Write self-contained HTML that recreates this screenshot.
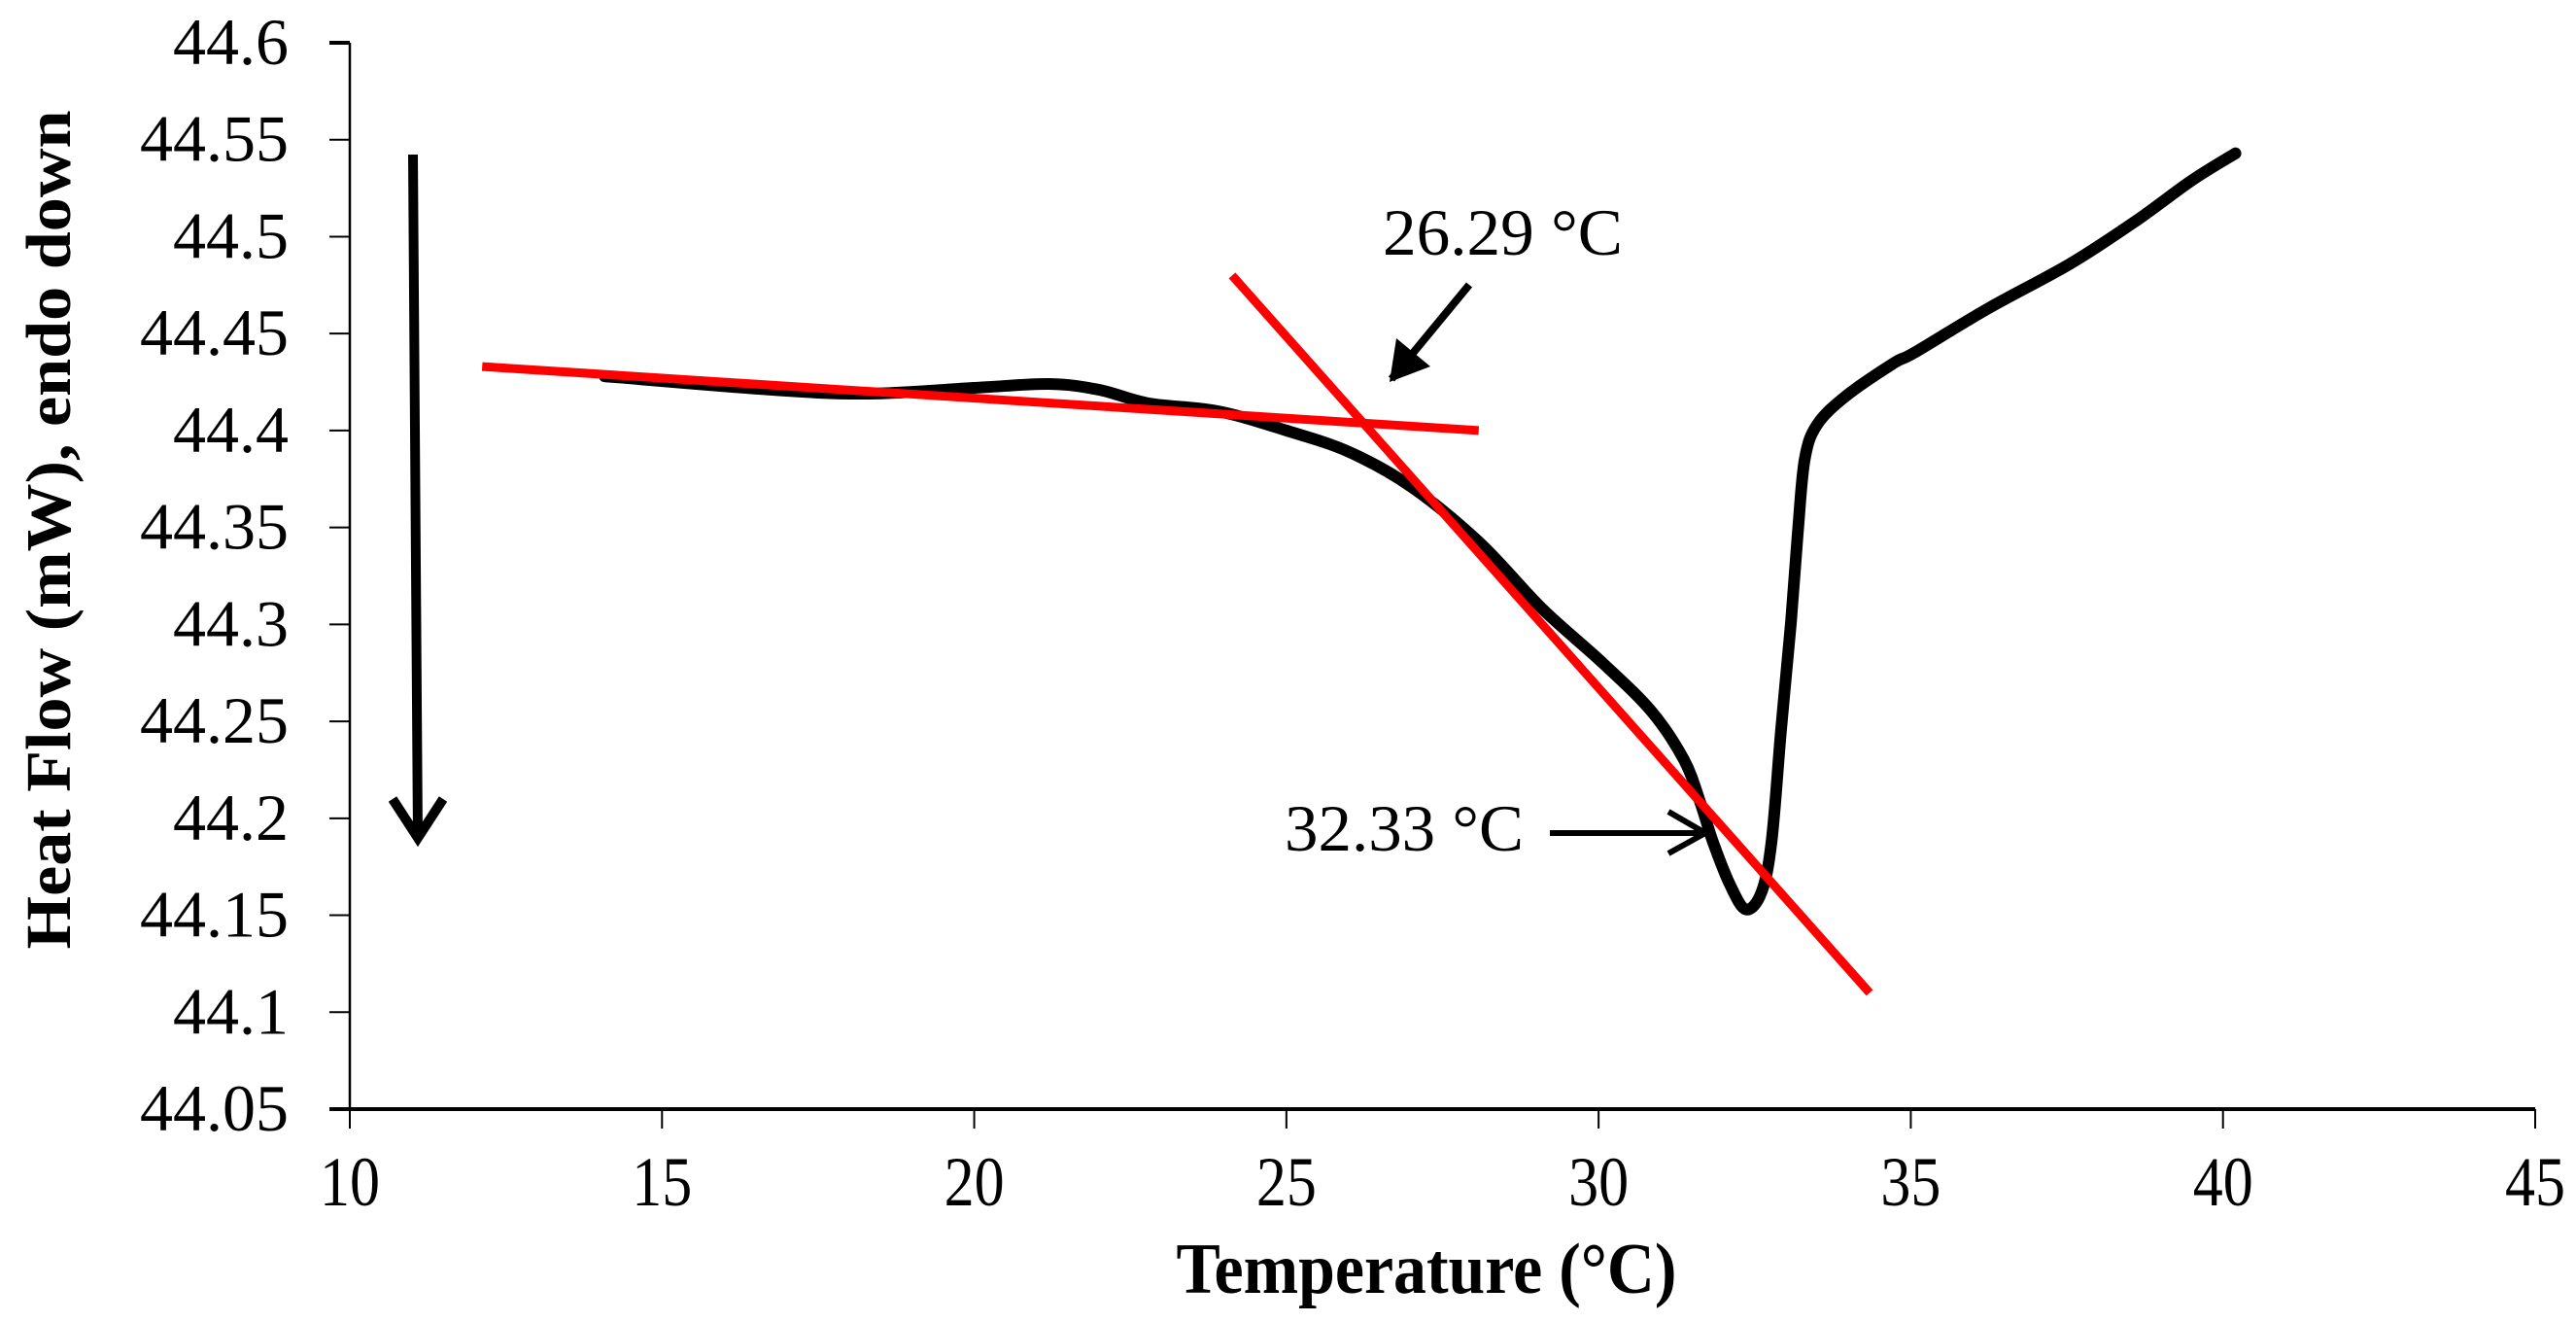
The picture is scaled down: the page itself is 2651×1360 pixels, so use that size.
<!DOCTYPE html>
<html><head><meta charset="utf-8"><style>
html,body{margin:0;padding:0;background:#fff;}
svg{display:block;}
text{font-family:"Liberation Serif",serif;fill:#000;}
</style></head><body>
<svg id="chart" width="2651" height="1360" viewBox="0 0 2651 1360" xmlns="http://www.w3.org/2000/svg">
<g id="axes"></g>
<g id="marks"></g>
<text transform="translate(72,545) rotate(-90)" text-anchor="middle" font-weight="bold" font-size="66" textLength="863" lengthAdjust="spacingAndGlyphs">Heat Flow (mW), endo down</text>
<text x="1468" y="1330" text-anchor="middle" font-weight="bold" font-size="74" textLength="515" lengthAdjust="spacingAndGlyphs">Temperature (°C)</text>
<g>
<line x1="425" y1="159" x2="430" y2="862" stroke="#000" stroke-width="10"/>
<polyline points="404,822 430,862 456,822" fill="none" stroke="#000" stroke-width="10"/>
</g>
<text x="1423" y="262" font-size="68" textLength="247" lengthAdjust="spacingAndGlyphs">26.29 °C</text>
<g>
<line x1="1512" y1="293" x2="1432" y2="390" stroke="#000" stroke-width="8"/>
<polygon points="1430,393 1437,348 1472,377" fill="#000"/>
</g>
<text x="1322" y="875" font-size="68" textLength="246" lengthAdjust="spacingAndGlyphs">32.33 °C</text>
<g>
<line x1="1595" y1="857" x2="1752" y2="857" stroke="#000" stroke-width="6"/>
<polyline points="1717,835 1755,857 1717,878" fill="none" stroke="#000" stroke-width="6"/>
</g>
</svg>
<script>
const xTicks = [10, 15, 20, 25, 30, 35, 40, 45];
const yTicks = [44.05, 44.1, 44.15, 44.2, 44.25, 44.3, 44.35, 44.4, 44.45, 44.5, 44.55, 44.6];
const yTickLabels = ["44.05","44.1","44.15","44.2","44.25","44.3","44.35","44.4","44.45","44.5","44.55","44.6"];
const curveT = [14.08,16.76,18.3,20.0,21.2,22.0,22.8,23.9,25.0,26.0,27.0,28.1,29.1,30.07,30.85,31.37,31.63,31.83,32.1,32.36,32.61,32.77,32.92,33.08,33.19,33.3,33.5,33.97,34.74,35.05,36.24,37.55,38.6,39.5,40.2];
const curveHF = [44.428,44.421,44.419,44.422,44.424,44.421,44.414,44.41,44.4,44.389,44.371,44.342,44.308,44.28,44.255,44.23,44.208,44.188,44.166,44.153,44.162,44.188,44.245,44.301,44.347,44.385,44.403,44.418,44.435,44.44,44.463,44.486,44.508,44.529,44.543];
const baselineT = [12.12, 28.08];
const baselineHF = [44.433, 44.400];
const tangentT = [24.13, 34.34];
const tangentHF = [44.480, 44.110];

const X0=360, X1=2609, Y0=1141, Y1=44;
function xs(v){return X0+(v-10)/(45-10)*(X1-X0);}
function ys(v){return Y0-(v-44.05)/(44.6-44.05)*(Y0-Y1);}
const NS='http://www.w3.org/2000/svg';
function mk(tag,attrs,parent){const e=document.createElementNS(NS,tag);for(const k in attrs)e.setAttribute(k,attrs[k]);parent.appendChild(e);return e;}
const axes=document.getElementById('axes'), marks=document.getElementById('marks');

let a=mk('line',{x1:X0,y1:Y0,x2:X0,y2:Y1,stroke:'#000','stroke-width':2.5},axes);


a=mk('line',{x1:X0-21,y1:Y0,x2:X1,y2:Y0,stroke:'#000','stroke-width':4},axes);



yTicks.forEach((v,i)=>{
  const y=ys(v);
  const t=mk('line',{x1:X0-21,y1:y,x2:X0,y2:y,stroke:'#000','stroke-width':i===yTicks.length-1?4:2},axes);
  
  
  const l=mk('text',{x:297,y:y+22,'text-anchor':'end','font-size':68},axes);
  l.textContent=yTickLabels[i];
  
  
});
xTicks.forEach(v=>{
  const x=xs(v);
  const t=mk('line',{x1:x,y1:Y0,x2:x,y2:Y0+20,stroke:'#000','stroke-width':2},axes);
  
  
  const l=mk('text',{x:x,y:1240,'text-anchor':'middle','font-size':72,textLength:62,lengthAdjust:'spacingAndGlyphs'},axes);
  l.textContent=String(v);
  
  
});

const P=curveT.map((t,i)=>[xs(t),ys(curveHF[i])]);
let d='M'+P[0][0].toFixed(1)+','+P[0][1].toFixed(1);
for(let i=0;i<P.length-1;i++){
  const p0=P[Math.max(0,i-1)],p1=P[i],p2=P[i+1],p3=P[Math.min(P.length-1,i+2)];
  const c1=[p1[0]+(p2[0]-p0[0])/6,p1[1]+(p2[1]-p0[1])/6];
  const c2=[p2[0]-(p3[0]-p1[0])/6,p2[1]-(p3[1]-p1[1])/6];
  d+=' C'+c1[0].toFixed(1)+','+c1[1].toFixed(1)+' '+c2[0].toFixed(1)+','+c2[1].toFixed(1)+' '+p2[0].toFixed(1)+','+p2[1].toFixed(1);
}
const c=mk('path',{d:d,fill:'none',stroke:'#000','stroke-width':12,'stroke-linejoin':'round','stroke-linecap':'round'},marks);



const b=mk('line',{x1:xs(baselineT[0]),y1:ys(baselineHF[0]),x2:xs(baselineT[1]),y2:ys(baselineHF[1]),stroke:'#ff0000','stroke-width':9},marks);


const g=mk('line',{x1:xs(tangentT[0]),y1:ys(tangentHF[0]),x2:xs(tangentT[1]),y2:ys(tangentHF[1]),stroke:'#ff0000','stroke-width':9},marks);


</script>
</body></html>
